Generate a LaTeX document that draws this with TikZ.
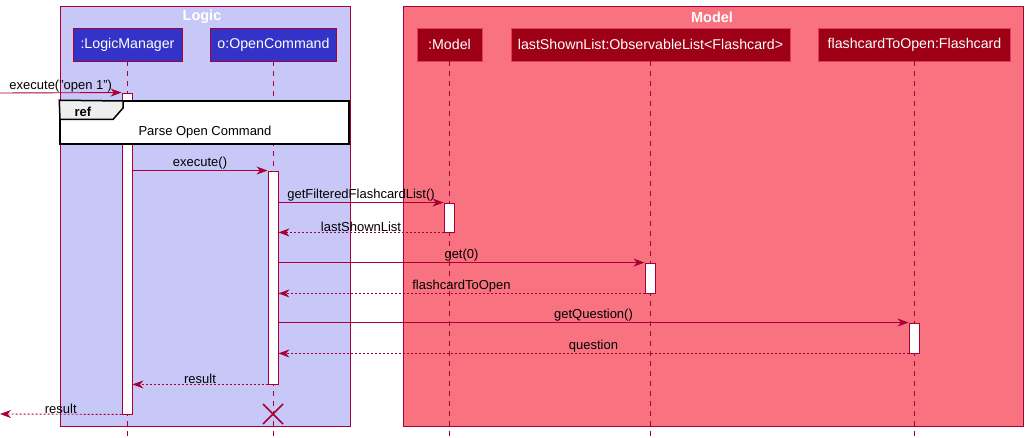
\documentclass[tikz,border=0pt]{standalone}
\usepackage{fontspec}
\setmainfont{Liberation Sans}
\usetikzlibrary{arrows.meta}
\definecolor{crim}{RGB}{168,0,54}
\definecolor{logicbg}{RGB}{200,200,248}
\definecolor{modelbg}{RGB}{248,114,128}
\definecolor{logicpart}{RGB}{51,51,200}
\definecolor{modelpart}{RGB}{158,0,22}
\definecolor{modelpartborder}{RGB}{226,60,100}
\definecolor{tabgray}{RGB}{238,238,238}
\tikzset{
  grp/.style={draw=crim, line width=0.9pt},
  grptitle/.style={text=white, font=\fontsize{14.5}{16}\selectfont\bfseries},
  lpart/.style={draw=crim, fill=logicpart, text=white, minimum height=33pt, inner sep=0pt, line width=0.9pt, font=\fontsize{14.2}{16}\selectfont},
  mpart/.style={draw=modelpartborder, fill=modelpart, text=white, minimum height=33pt, inner sep=0pt, line width=0.9pt, font=\fontsize{14.2}{16}\selectfont},
  life/.style={draw=crim, line width=0.8pt, dash pattern=on 5pt off 5pt},
  act/.style={draw=crim, fill=white, minimum width=10pt, inner sep=0pt, line width=0.9pt},
  msg/.style={draw=crim, line width=0.9pt, -{Stealth[length=11pt,width=8pt,inset=3.5pt]}},
  ret/.style={msg, dash pattern=on 2pt off 2pt},
  lbl/.style={text=black, font=\fontsize{13}{15}\selectfont, inner sep=0.5pt},
}
\begin{document}
\begin{tikzpicture}[x=1pt,y=-1pt]
\useasboundingbox (0,0) rectangle (1029,438);
\fill[white] (0,0) rectangle (1029,438);
% group boxes
\draw[grp, fill=logicbg] (60,6) rectangle (350,426);
\draw[grp, fill=modelbg] (403,6) rectangle (1023,426);
\node[grptitle] (tlogic) at (202,17) {Logic};
\node[grptitle] (tmodel) at (712,17) {Model};
% participants
\node[lpart, minimum width=109pt] (p1) at (127.5,44.5) {:LogicManager};
\node[lpart, minimum width=126pt] (p2) at (273.5,44.5) {o:OpenCommand};
\node[mpart, minimum width=65pt] (p3) at (449.5,44.5) {:Model};
\node[mpart, minimum width=279pt] (p4) at (650.5,44.5) {lastShownList:ObservableList<Flashcard>};
\node[mpart, minimum width=192pt] (p5) at (914.5,44.5) {flashcardToOpen:Flashcard};
% lifeline ends
\coordinate (e1) at (127,438);
\coordinate (e2) at (273,438);
\coordinate (e3) at (449,438);
\coordinate (e4) at (650,438);
\coordinate (e5) at (914,438);
\draw[life] (p1.south -| e1) -- (e1);
\draw[life] (p2.south -| e2) -- (e2);
\draw[life] (p3.south -| e3) -- (e3);
\draw[life] (p4.south -| e4) -- (e4);
\draw[life] (p5.south -| e5) -- (e5);
% activations
\node[act, minimum height=321pt] (a1) at (127,253.5) {};
\node[act, minimum height=213pt] (a2) at (273,277.5) {};
\node[act, minimum height=29pt] (a3) at (449,217.5) {};
\node[act, minimum height=30pt] (a4) at (650,278) {};
\node[act, minimum height=30pt] (a5) at (914,338) {};
% ref frame
\node[draw=black, fill=white, line width=1.5pt, minimum width=289pt, minimum height=43pt, inner sep=0pt] (ref) at (204.5,122.5) {};
\filldraw[draw=black, fill=tabgray, line width=1.5pt] (ref.north west) -- (123,101) -- (123,108) -- (113,119.5) -- (60,119.5) -- cycle;
\node[text=black, font=\fontsize{13}{15}\selectfont\bfseries] (reft) at (83,112) {ref};
\node[lbl] (refl) at (205,132.5) {Parse Open Command};
% messages
\coordinate (in1) at (0,93);
\coordinate (out1) at (0,414);
\draw[msg] (in1) -- node[lbl, above] {execute("open 1")} (a1.north west);
\draw[msg] (a1.east |- a2.north) -- node[lbl, above] {execute()} (a2.north west);
\draw[msg] (a2.east |- a3.north) -- node[lbl, above] {getFilteredFlashcardList()} (a3.north west);
\draw[ret] (a3.south west) -- node[lbl, above] {lastShownList} (a2.east |- a3.south);
\draw[msg] (a2.east |- a4.north) -- node[lbl, above] {get(0)} (a4.north west);
\draw[ret] (a4.south west) -- node[lbl, above] {flashcardToOpen} (a2.east |- a4.south);
\draw[msg] (a2.east |- a5.north) -- node[lbl, above] {getQuestion()} (a5.north west);
\draw[ret] (a5.south west) -- node[lbl, above] {question} (a2.east |- a5.south);
\draw[ret] (a2.south west) -- node[lbl, above] {result} (a1.east |- a2.south);
\draw[ret] (a1.south west) -- node[lbl, above] {result} (out1);
% destroy
\coordinate (dx) at (273,414);
\draw[crim, line width=1.6pt] ([shift={(-10,-10)}]dx) -- ([shift={(10,10)}]dx) ([shift={(-10,10)}]dx) -- ([shift={(10,-10)}]dx);
\end{tikzpicture}
\end{document}
